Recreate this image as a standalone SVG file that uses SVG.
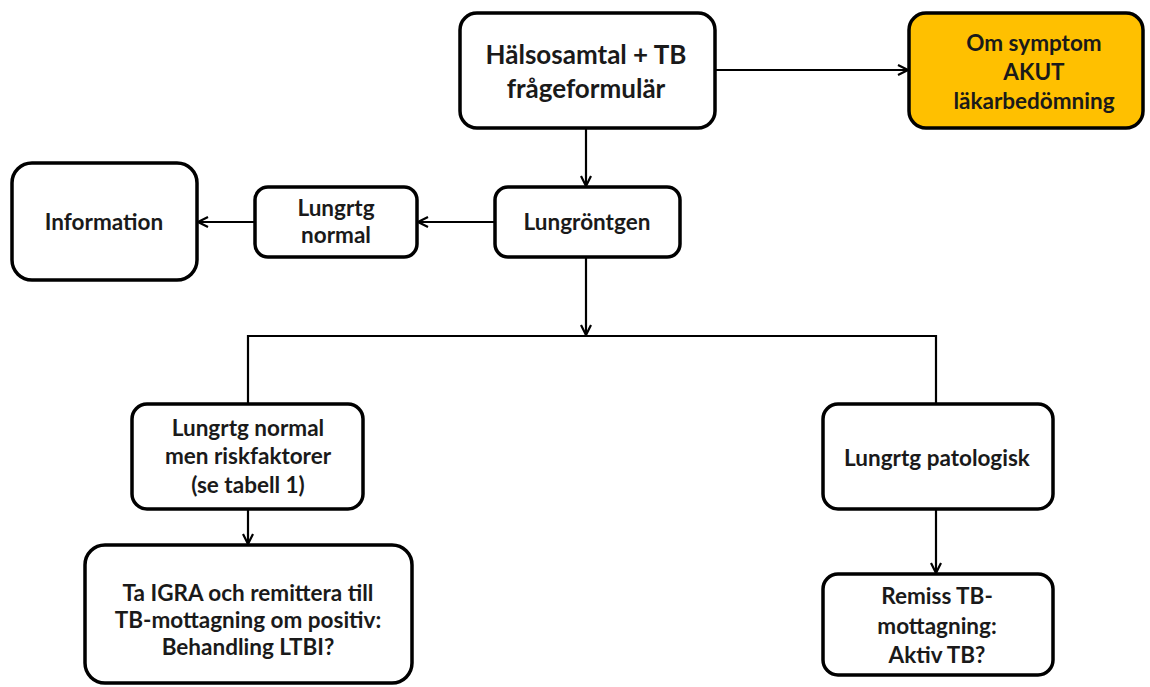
<svg xmlns="http://www.w3.org/2000/svg" width="1150" height="687" viewBox="0 0 1150 687">
<style>
.box{fill:#ffffff;stroke:#000000;stroke-width:3.5}
.orange{fill:#FFC000;stroke:#000000;stroke-width:3.5}
.t{font-family:Lato,"Open Sans","Liberation Sans",sans-serif;font-weight:bold;font-size:22.5px;fill:#1a1a1a;text-anchor:middle}
.big{font-size:26px}
.c{fill:none;stroke:#000000;stroke-width:2.2}
</style>
<defs>
<marker id="arr" viewBox="0 0 12 12" markerWidth="12" markerHeight="12" refX="11" refY="6" orient="auto" markerUnits="userSpaceOnUse">
<path d="M1,1 L11,6 L1,11" fill="none" stroke="#000000" stroke-width="2.2"/>
</marker>
</defs>
<rect width="1150" height="687" fill="#ffffff"/>
<g id="connectors">
<line class="c" x1="715" y1="70" x2="908" y2="70" marker-end="url(#arr)"/>
<line class="c" x1="586" y1="128" x2="586" y2="186" marker-end="url(#arr)"/>
<line class="c" x1="495" y1="222" x2="418" y2="222" marker-end="url(#arr)"/>
<line class="c" x1="255" y1="222" x2="198" y2="222" marker-end="url(#arr)"/>
<line class="c" x1="586" y1="257" x2="586" y2="335" marker-end="url(#arr)"/>
<polyline class="c" points="248,404 248,336 936,336 936,404"/>
<line class="c" x1="248" y1="509" x2="248" y2="544" marker-end="url(#arr)"/>
<line class="c" x1="936" y1="509" x2="936" y2="573" marker-end="url(#arr)"/>
</g>
<g id="halsosamtal">
<rect class="box" x="460" y="13" width="255" height="115" rx="17"/>
<text class="t big" x="586" y="64">Hälsosamtal + TB</text>
<text class="t big" x="586" y="98">frågeformulär</text>
</g>
<g id="akut">
<rect class="orange" x="909" y="13" width="234" height="115" rx="17"/>
<text class="t" x="1034" y="51">Om symptom</text>
<text class="t" x="1034" y="80">AKUT</text>
<text class="t" x="1034" y="109">läkarbedömning</text>
</g>
<g id="information">
<rect class="box" x="12" y="163" width="185" height="117" rx="20"/>
<text class="t" x="104" y="230">Information</text>
</g>
<g id="lungrtg-normal">
<rect class="box" x="255" y="187" width="162" height="70" rx="13"/>
<text class="t" x="336" y="216">Lungrtg</text>
<text class="t" x="336" y="243">normal</text>
</g>
<g id="lungrontgen">
<rect class="box" x="495" y="187" width="185" height="70" rx="13"/>
<text class="t" x="587" y="230">Lungröntgen</text>
</g>
<g id="riskfaktorer">
<rect class="box" x="132" y="404" width="231" height="105" rx="15"/>
<text class="t" x="248" y="436">Lungrtg normal</text>
<text class="t" x="248" y="464">men riskfaktorer</text>
<text class="t" x="248" y="493">(se tabell 1)</text>
</g>
<g id="patologisk">
<rect class="box" x="823" y="404" width="230" height="105" rx="15"/>
<text class="t" x="937" y="466">Lungrtg patologisk</text>
</g>
<g id="igra">
<rect class="box" x="85" y="545" width="327" height="138" rx="20"/>
<text class="t" x="248" y="601">Ta IGRA och remittera till</text>
<text class="t" x="248" y="628">TB-mottagning om positiv:</text>
<text class="t" x="248" y="655">Behandling LTBI?</text>
</g>
<g id="remiss">
<rect class="box" x="823" y="574" width="230" height="101" rx="15"/>
<text class="t" x="937" y="604">Remiss TB-</text>
<text class="t" x="937" y="634">mottagning:</text>
<text class="t" x="937" y="663">Aktiv TB?</text>
</g>
</svg>
